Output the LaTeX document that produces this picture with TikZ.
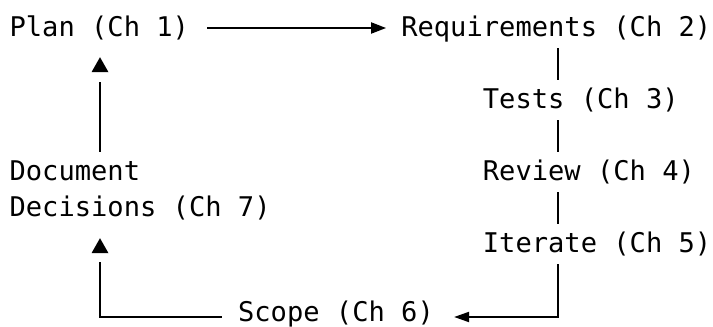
\documentclass[tikz,border=0pt]{standalone}
\usepackage{fontspec}
\newfontfamily\diagfont{DejaVu Sans Mono}
\usetikzlibrary{arrows.meta,calc}
\begin{document}
\begin{tikzpicture}[x=1pt,y=-1pt,
  lbl/.style={inner sep=0pt, anchor=base west,
    font=\diagfont\fontsize{27.1pt}{36pt}\selectfont,
    text height=28pt, text depth=12pt},
  conn/.style={line width=2pt, black},
  rtip/.style={-{Triangle[length=15pt,width=11pt]}},
  ltip/.style={-{Triangle[length=15pt,width=10pt]}},
  uphead/.style={fill=black}
]
\useasboundingbox (0,0) rectangle (713,327);

\node[lbl] (plan) at (9.4,36) {Plan (Ch 1)};
\node[lbl] (req) at (401.1,36) {Requirements (Ch 2)};
\node[lbl] (tests) at (482.7,108) {Tests (Ch 3)};
\node[lbl] (review) at (482.7,180) {Review (Ch 4)};
\node[lbl] (iterate) at (482.7,252) {Iterate (Ch 5)};
\node[lbl] (scope) at (237.9,321) {Scope (Ch 6)};
\node[lbl, align=left, text height=64pt] (doc) at (9.4,216) {Document\\Decisions (Ch 7)};

\coordinate (rc) at (558,0);
\coordinate (lc) at (100,0);
% arrow tip points of the two upward arrows
\coordinate (tipA) at ($(lc |- plan.south)+(0,9)$);
\coordinate (tipB) at ($(lc |- doc.south)+(0,10)$);

\draw[conn,rtip] ([xshift=18pt]plan.east) -- ([xshift=-15pt]req.west);
\draw[conn] (rc |- req.south) -- (rc |- tests.north);
\draw[conn] (rc |- tests.south) -- (rc |- review.north);
\draw[conn] (rc |- review.south) -- (rc |- iterate.north);
\draw[conn,ltip] (rc |- iterate.south) |- ([xshift=20pt,yshift=-4pt]scope.east);
\draw[conn] ([xshift=-16pt,yshift=-4pt]scope.west) -| ($(tipB)+(0,24)$);
\fill[uphead] (tipB) -- ++(-8.5,15) -- ++(17,0) -- cycle;
\draw[conn] (lc |- doc.north) -- ($(tipA)+(0,25)$);
\fill[uphead] (tipA) -- ++(-8.5,15) -- ++(17,0) -- cycle;
\end{tikzpicture}
\end{document}
